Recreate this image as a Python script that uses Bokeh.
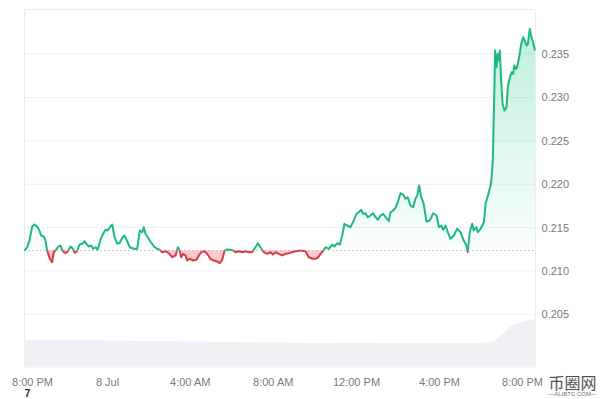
import numpy as np
from bokeh.plotting import figure
from bokeh.models import Range1d
from bokeh.core.properties import value
from bokeh.embed import file_html
from bokeh.resources import INLINE

# hours after 8:00 PM, 7 Jul
hours = [0, 0.13, 0.24, 0.37, 0.48, 0.61, 0.72, 0.80, 0.93, 1.01, 1.09, 1.22, 1.33, 1.41, 1.49,
         1.60, 1.73, 1.85, 1.98, 2.09, 2.22, 2.33, 2.42, 2.54, 2.65, 2.78, 2.89, 2.99, 3.10, 3.21,
         3.31, 3.42, 3.53, 3.66, 3.79, 3.90, 4.01, 4.14, 4.23, 4.34, 4.47, 4.59, 4.71, 4.82, 4.95,
         5.07, 5.27, 5.43, 5.56, 5.67, 5.75, 5.83, 5.94, 6.04, 6.15, 6.27, 6.40, 6.52, 6.64, 6.80,
         6.95, 7.12, 7.28, 7.39, 7.48, 7.55, 7.65, 7.76, 7.84, 7.97, 8.13, 8.29, 8.40, 8.52, 8.67,
         8.80, 8.96, 9.12, 9.29, 9.41, 9.53, 9.64, 9.77, 9.93, 10.06, 10.17, 10.33, 10.49, 10.65,
         10.81, 10.97, 11.13, 11.24, 11.37, 11.53, 11.70, 11.86, 11.97, 12.10, 12.26, 12.42, 12.58,
         12.74, 12.90, 13.06, 13.30, 13.54, 13.70, 13.87, 14.02, 14.13, 14.27, 14.40, 14.51, 14.67,
         14.83, 14.94, 15.07, 15.20, 15.31, 15.42, 15.55, 15.71, 15.87, 16.00, 16.11, 16.23, 16.32,
         16.43, 16.54, 16.67, 16.80, 16.92, 17.03, 17.16, 17.29, 17.40, 17.56, 17.64, 17.77, 17.88,
         17.99, 18.12, 18.25, 18.36, 18.47, 18.60, 18.73, 18.84, 18.93, 19.02, 19.12, 19.24, 19.37,
         19.53, 19.70, 19.86, 19.97, 20.08, 20.18, 20.29, 20.40, 20.53, 20.69, 20.85, 21.01, 21.17,
         21.30, 21.36, 21.46, 21.58, 21.65, 21.78, 21.85, 21.98, 22.14, 22.22, 22.38, 22.49, 22.57,
         22.63, 22.68, 22.75, 22.81, 22.86, 22.91, 22.97, 23.04, 23.13, 23.23, 23.29, 23.39, 23.48,
         23.55, 23.61, 23.68, 23.74, 23.84, 23.94, 24.03, 24.10, 24.19, 24.26, 24.35, 24.43, 24.51,
         24.60]

prices = [0.21236, 0.21274, 0.21351, 0.21513, 0.21536, 0.21513, 0.21467, 0.21409, 0.21397, 0.21351,
          0.21236, 0.21144, 0.21101, 0.21217, 0.21236, 0.21274, 0.21294, 0.21228, 0.21205, 0.21228,
          0.21282, 0.21256, 0.21210, 0.21228, 0.21305, 0.21313, 0.21343, 0.21313, 0.21282, 0.21294,
          0.21256, 0.21274, 0.21244, 0.21359, 0.21429, 0.21475, 0.21467, 0.21513, 0.21536, 0.21389,
          0.21313, 0.21325, 0.21382, 0.21409, 0.21343, 0.21274, 0.21256, 0.21256, 0.21467, 0.21447,
          0.21505, 0.21429, 0.21389, 0.21351, 0.21313, 0.21274, 0.21256, 0.21244, 0.21217, 0.21228,
          0.21205, 0.21159, 0.21179, 0.21274, 0.21236, 0.21159, 0.21198, 0.21179, 0.21121, 0.21141,
          0.21121, 0.21129, 0.21179, 0.21217, 0.21228, 0.21198, 0.21141, 0.21121, 0.21109, 0.21090,
          0.21129, 0.21236, 0.21248, 0.21244, 0.21236, 0.21217, 0.21228, 0.21217, 0.21228, 0.21217,
          0.21217, 0.21274, 0.21320, 0.21274, 0.21217, 0.21198, 0.21217, 0.21190, 0.21217, 0.21198,
          0.21179, 0.21198, 0.21205, 0.21217, 0.21228, 0.21236, 0.21228, 0.21159, 0.21141, 0.21141,
          0.21152, 0.21198, 0.21236, 0.21274, 0.21256, 0.21305, 0.21282, 0.21320, 0.21305, 0.21409,
          0.21544, 0.21524, 0.21505, 0.21582, 0.21659, 0.21677, 0.21705, 0.21659, 0.21666, 0.21620,
          0.21639, 0.21666, 0.21620, 0.21590, 0.21639, 0.21659, 0.21620, 0.21574, 0.21677, 0.21697,
          0.21728, 0.21793, 0.21896, 0.21881, 0.21832, 0.21850, 0.21755, 0.21735, 0.21832, 0.21870,
          0.21985, 0.21850, 0.21774, 0.21570, 0.21582, 0.21666, 0.21639, 0.21505, 0.21524, 0.21475,
          0.21524, 0.21447, 0.21371, 0.21409, 0.21486, 0.21447, 0.21351, 0.21294, 0.21217, 0.21447,
          0.21544, 0.21467, 0.21505, 0.21447, 0.21486, 0.21562, 0.21774, 0.21908, 0.22023, 0.22273,
          0.22926, 0.23540, 0.23348, 0.23502, 0.23425, 0.23540, 0.23195, 0.22926, 0.22849, 0.22887,
          0.23118, 0.23233, 0.23290, 0.23272, 0.23368, 0.23329, 0.23348, 0.23463, 0.23618, 0.23694,
          0.23656, 0.23598, 0.23618, 0.23790, 0.23694, 0.23636, 0.23540]

# 24h volume (arbitrary units)
vol_hours = [0, 2, 4, 6, 8, 10, 12, 14, 16, 18, 20, 22, 22.6, 23.0, 23.5, 24.0, 24.63]
vol_values = [28, 27.5, 27, 26.5, 26, 25.5, 25, 24.5, 24.8, 24.5, 24.3, 24.3, 26, 33, 42, 46, 49]

x_ticks = [0, 4, 8, 12, 16, 20, 24]
x_tick_labels = ["8:00 PM", "8 Jul", "4:00 AM", "8:00 AM", "12:00 PM", "4:00 PM", "8:00 PM"]
y_ticks = [0.205, 0.210, 0.215, 0.220, 0.225, 0.230, 0.235]
y_tick_labels = ["0.205", "0.210", "0.215", "0.220", "0.225", "0.230", "0.235"]
day_label = "7"
watermark = "币圈网"
watermark_sub = "—ALIBTC.COM—"

# chart window (time / price extents of the plotting box)
t_start, t_end = 0.0, 24.63
p_low, p_high = 0.19888, 0.24013

GREEN = "#1fb97e"
GREEN_FILL = "#16c784"
RED = "#d93c48"
RED_FILL = "#ea3943"
FONT = value("Liberation Sans")
LABEL = "#7a7a7a"

p = figure(width=600, height=399, output_backend="svg", toolbar_location=None,
           x_range=Range1d(-1.1566, 27.759), y_range=Range1d(0.195196, 0.241164),
           min_border=0, min_border_left=0, min_border_right=0,
           min_border_top=0, min_border_bottom=0)
p.axis.visible = False
p.grid.visible = False
p.outline_line_color = None
p.background_fill_color = "white"
p.border_fill_color = "white"
p.extra_y_ranges = {"vol": Range1d(-32, 367)}

# horizontal grid lines and box edges
p.segment(x0=t_start, x1=t_end, y0=y_ticks, y1=y_ticks, line_color="#f0f0f0", line_width=1)
p.segment(x0=[t_start, t_start, t_end], x1=[t_end, t_start, t_end],
          y0=[p_high, p_low, p_low], y1=[p_high, p_high, p_high],
          line_color="#ebebeb", line_width=1)

# volume area
p.varea(x=vol_hours, y1=0, y2=vol_values, y_range_name="vol", fill_color="#eef0f4", fill_alpha=1.0)

t = np.array(hours, float)
pr = np.array(prices, float)
base = pr[0]

# insert baseline crossings
tt = [t[0]]
pp = [pr[0]]
for i in range(len(t) - 1):
    a, b = pr[i] - base, pr[i + 1] - base
    if a * b < 0:
        tc = t[i] + (-a) / (b - a) * (t[i + 1] - t[i])
        tt.append(tc)
        pp.append(base)
    tt.append(t[i + 1])
    pp.append(pr[i + 1])
tt = np.array(tt)
pp = np.array(pp)

# green gradient fill above baseline
N = 40
step = (p_high - base) / N
for k in range(N):
    lo = base + k * step
    hi = lo + step
    y2 = np.clip(pp, lo, hi)
    if np.all(y2 <= lo):
        continue
    alpha = 0.02 + 0.28 * (k + 0.5) / N
    p.varea(x=tt, y1=lo, y2=y2, fill_color=GREEN_FILL, fill_alpha=alpha)

# red fill below baseline
p.varea(x=tt, y1=np.minimum(pp, base), y2=base, fill_color=RED_FILL, fill_alpha=0.27)

# split line into green / red runs
segs_x, segs_y, cols = [], [], []
cur_x, cur_y, cur_s = [tt[0]], [pp[0]], 0


def close(cx, cy, cs):
    if len(cx) >= 2:
        segs_x.append(list(cx))
        segs_y.append(list(cy))
        cols.append(RED if cs < 0 else GREEN)


for x, y in zip(tt[1:], pp[1:]):
    s = np.sign(round(y - base, 9))
    if s == 0:
        cur_x.append(x)
        cur_y.append(y)
        close(cur_x, cur_y, cur_s)
        cur_x, cur_y, cur_s = [x], [y], 0
    elif cur_s == 0 or cur_s == s:
        cur_s = s
        cur_x.append(x)
        cur_y.append(y)
    else:
        close(cur_x, cur_y, cur_s)
        cur_x, cur_y, cur_s = [cur_x[-1], x], [cur_y[-1], y], s
close(cur_x, cur_y, cur_s)

p.multi_line(xs=segs_x, ys=segs_y, line_color=cols, line_width=2, line_join="round")

# dotted baseline (opening price)
p.segment(x0=t_start, x1=t_end, y0=base, y1=base, line_color="#9a9a9a",
          line_dash="1 3", line_width=1)

# y tick labels (right)
p.text(x=t_end, y=y_ticks, text=y_tick_labels, x_offset=6, text_align="left",
       text_baseline="middle", text_font=FONT, text_font_size="11px", text_color=LABEL)

# x tick labels (bottom); first one nudged inward like the original
x_offsets = [8] + [0] * (len(x_ticks) - 1)
p.text(x=x_ticks, y=p_low, text=x_tick_labels, x_offset=x_offsets, y_offset=14,
       text_align="center", text_baseline="middle", text_font=FONT,
       text_font_size="11px", text_color=LABEL)

# day marker under the first tick
p.text(x=[x_ticks[0]], y=[p_low], text=[day_label], x_offset=3, y_offset=25,
       text_align="center", text_baseline="alphabetic", text_font=FONT,
       text_font_size="10px", text_font_style="bold", text_color="#222222")

# watermark
p.text(x=[t_end], y=[p_low], text=[watermark], x_offset=37, y_offset=14,
       text_align="center", text_baseline="middle", text_font=value("Noto Sans CJK SC"),
       text_font_size="16px", text_color="#505050")
p.text(x=[t_end], y=[p_low], text=[watermark_sub], x_offset=37, y_offset=26,
       text_align="center", text_baseline="middle", text_font=FONT,
       text_font_size="6px", text_color="#707070")

open("out.html", "w").write(file_html(p, INLINE))
